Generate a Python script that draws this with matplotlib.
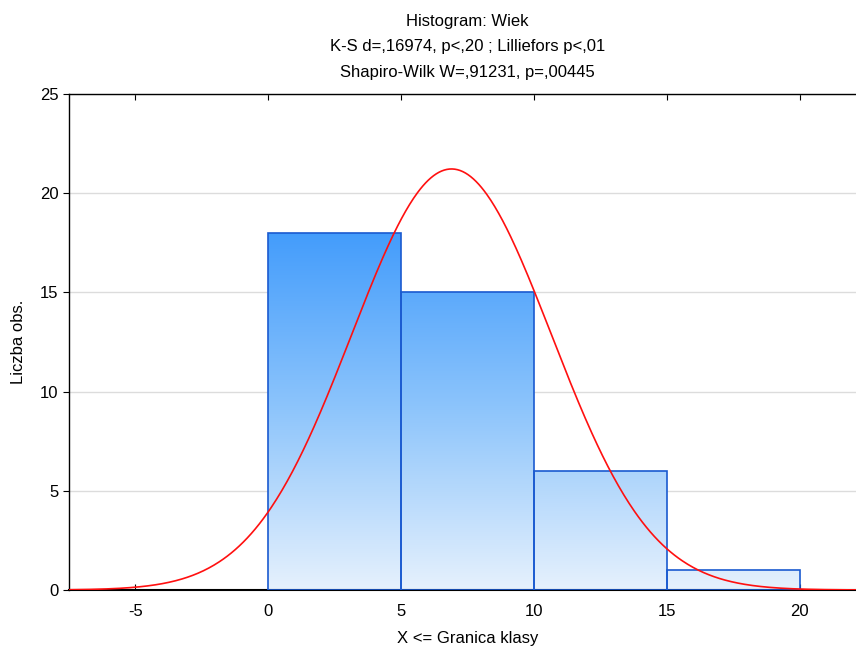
import numpy as np
import matplotlib
matplotlib.use("Agg")
import matplotlib.pyplot as plt
from matplotlib.colors import LinearSegmentedColormap
from matplotlib.patches import Rectangle

plt.rcParams["font.family"] = ["Liberation Sans", "DejaVu Sans"]
plt.rcParams["font.size"] = 12
plt.rcParams["axes.unicode_minus"] = False

# histogram data
bin_edges = [0, 5, 10, 15, 20]
counts = [18, 15, 6, 1]
n_obs = 40
mean_est = 6.9
sd_est = 3.76

title = ("Histogram: Wiek\n"
         "K-S d=,16974, p<,20 ; Lilliefors p<,01\n"
         "Shapiro-Wilk W=,91231, p=,00445")

fig = plt.figure(figsize=(8.56, 6.48), dpi=100)
ax = fig.add_axes([0.0806, 0.0895, 0.931, 0.7655])

cmap = LinearSegmentedColormap.from_list("bar", ["#e6f1fd", "#8cc4fb", "#3f9afc"])
grad = np.linspace(0, 1, 256).reshape(-1, 1)

for lo, hi, c in zip(bin_edges[:-1], bin_edges[1:], counts):
    rect = Rectangle((lo, 0), hi - lo, c, facecolor="none",
                     edgecolor="#1a5ad0", lw=1.2, zorder=3)
    ax.add_patch(rect)
    im = ax.imshow(grad, cmap=cmap, origin="lower", aspect="auto",
                   extent=(lo, hi, 0, 18.5), zorder=2, interpolation="bicubic")
    im.set_clip_path(rect)

xx = np.linspace(-7.5, 22.5, 600)
width = bin_edges[1] - bin_edges[0]
yy = n_obs * width / (sd_est * np.sqrt(2 * np.pi)) * np.exp(-0.5 * ((xx - mean_est) / sd_est) ** 2)
ax.plot(xx, yy, color="#ff1010", lw=1.2, zorder=4)

ax.set_xlim(-7.5, 22.5)
ax.set_ylim(0, 25)
ax.set_xticks([-5, 0, 5, 10, 15, 20])
ax.set_yticks([0, 5, 10, 15, 20, 25])
ax.yaxis.grid(True, color="#dcdcdc", lw=1)
ax.set_axisbelow(True)
ax.tick_params(axis="x", direction="in", top=True, length=4, pad=10)
ax.tick_params(axis="y", direction="out", length=4)
for s in ax.spines.values():
    s.set_linewidth(1.0)
ax.spines["bottom"].set_linewidth(1.5)

ax.set_title(title, fontsize=12, linespacing=1.9, pad=12)
ax.set_xlabel("X <= Granica klasy", labelpad=9)
ax.set_ylabel("Liczba obs.", labelpad=10)

fig.savefig("out.png", dpi=100)
